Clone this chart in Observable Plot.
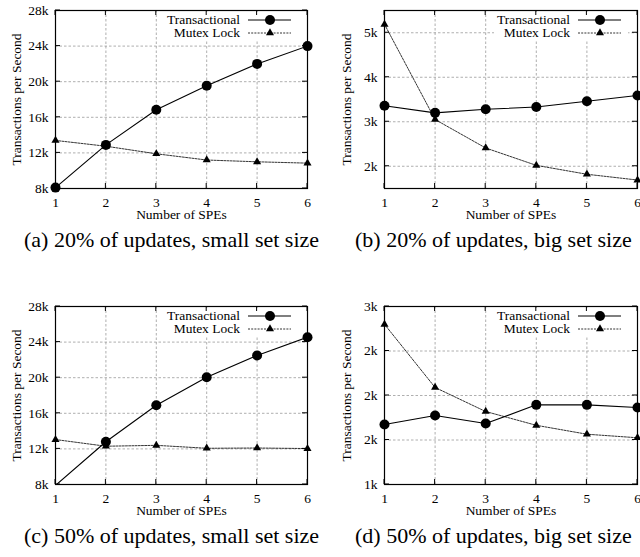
<!DOCTYPE html>
<html><head><meta charset="utf-8">
<script src="https://cdn.jsdelivr.net/npm/d3@7"></script>
<script src="https://cdn.jsdelivr.net/npm/@observablehq/plot@0.6"></script>
<style>
html,body{margin:0;padding:0;background:#fff;overflow:hidden;}
#root{position:relative;width:640px;height:557px;overflow:hidden;font-family:"Liberation Serif",serif;color:#000;}
#root svg, #root svg text{font-family:"Liberation Serif",serif !important;}
#root svg{font-size:13.5px;overflow:visible;background:transparent;}
.panel{position:absolute;width:320px;height:230px;}
.cap{position:absolute;font-size:22px;white-space:nowrap;line-height:1;}
</style></head><body><div id="root"></div><script>
// ---- data ----
const spes = [1, 2, 3, 4, 5, 6];
const seriesNames = ["Transactional", "Mutex Lock"];
const transA = [8100, 12900, 16850, 19550, 22000, 24000];
const mutexA = [13400, 12750, 11900, 11200, 11000, 10850];
const transB = [3360, 3200, 3280, 3330, 3460, 3590];
const mutexB = [5190, 3050, 2410, 2020, 1820, 1690];
const transC = [7900, 12800, 16900, 20050, 22500, 24550];
const mutexC = [13050, 12300, 12400, 12070, 12100, 12040];
const transD = [1675, 1775, 1685, 1895, 1895, 1865];
const mutexD = [2800, 2090, 1820, 1665, 1565, 1525];
const yTicksSmall = [8000, 12000, 16000, 20000, 24000, 28000];
const yLabelsSmall = ["8k", "12k", "16k", "20k", "24k", "28k"];
const yTicksB = [2000, 3000, 4000, 5000];
const yLabelsB = ["2k", "3k", "4k", "5k"];
const yTicksD = [1000, 1500, 2000, 2500, 3000];
const yLabelsD = ["1k", "2k", "2k", "2k", "3k"];
const xLabel = "Number of SPEs";
const yLabel = "Transactions per Second";
const captions = [
  "(a) 20% of updates, small set size",
  "(b) 20% of updates, big set size",
  "(c) 50% of updates, small set size",
  "(d) 50% of updates, big set size"
];

// ---- drawing ----
function inwardTicks(yTicks, len) {
  return (index, scales, values, dims) => {
    const g = d3.create("svg:g").attr("stroke", "#000").attr("stroke-width", 1);
    const l = dims.marginLeft, r = dims.width - dims.marginRight;
    const t = dims.marginTop, b = dims.height - dims.marginBottom;
    for (const v of spes) {
      const x = scales.x(v);
      g.append("line").attr("x1", x).attr("x2", x).attr("y1", b).attr("y2", b - len);
      g.append("line").attr("x1", x).attr("x2", x).attr("y1", t).attr("y2", t + len);
    }
    for (const v of yTicks) {
      const y = scales.y(v);
      g.append("line").attr("x1", l).attr("x2", l + len).attr("y1", y).attr("y2", y);
      g.append("line").attr("x1", r).attr("x2", r - len).attr("y1", y).attr("y2", y);
    }
    return g.node();
  };
}

function legend() {
  return (index, scales, values, dims) => {
    const r = dims.width - dims.marginRight, t = dims.marginTop;
    const g = d3.create("svg:g");
    g.append("rect").attr("x", r - 143).attr("y", t + 2).attr("width", 134).attr("height", 29).attr("fill", "#fff");
    const rows = [
      {name: seriesNames[0], dy: 10, dash: null, w: 1.1},
      {name: seriesNames[1], dy: 23, dash: "2,1.2", w: 0.8}
    ];
    rows.forEach((row, i) => {
      const y = t + row.dy;
      g.append("text").attr("x", r - 67).attr("y", y).attr("dy", "0.32em")
        .attr("text-anchor", "end").attr("font-size", 13.5)
        .attr("fill", "#000").text(row.name);
      const ln = g.append("line").attr("x1", r - 59).attr("x2", r - 16).attr("y1", y).attr("y2", y)
        .attr("stroke", "#000").attr("stroke-width", row.w);
      if (row.dash) ln.attr("stroke-dasharray", row.dash);
      const cx = r - 37;
      if (i === 0) {
        g.append("circle").attr("cx", cx).attr("cy", y).attr("r", 5).attr("fill", "#000");
      } else {
        g.append("path").attr("transform", `translate(${cx},${y})`)
          .attr("d", d3.symbol(d3.symbolTriangle, Math.PI * 9)()).attr("fill", "#000");
      }
    });
    return g.node();
  };
}

function panel({trans, mutex, yDomain, yTicks, yLabels, marginLeft, marginRight, ylabDx}) {
  const T = spes.map((x, i) => ({x, y: trans[i], s: seriesNames[0]}));
  const M = spes.map((x, i) => ({x, y: mutex[i], s: seriesNames[1]}));
  const inDomain = d => d.y >= yDomain[0] && d.y <= yDomain[1];
  const fmt = d => yLabels[yTicks.indexOf(d)];
  return Plot.plot({
    width: 320, height: 230,
    marginTop: 10, marginBottom: 42, marginLeft, marginRight,
    x: {domain: [1, 6], label: null},
    y: {domain: yDomain, label: null},
    marks: [
      Plot.gridX(spes, {stroke: "#9a9a9a", strokeOpacity: 1, strokeWidth: 0.8, strokeDasharray: "2.5,2"}),
      Plot.gridY(yTicks, {stroke: "#9a9a9a", strokeOpacity: 1, strokeWidth: 0.8, strokeDasharray: "2.5,2"}),
      legend(),
      Plot.line(M, {x: "x", y: "y", stroke: "#000", strokeWidth: 0.8, strokeDasharray: "2,1.2", clip: true}),
      Plot.line(T, {x: "x", y: "y", stroke: "#000", strokeWidth: 1.1, clip: true}),
      Plot.dot(T, {x: "x", y: "y", r: 5, fill: "#000", stroke: null, symbol: "circle", filter: inDomain}),
      Plot.dot(M, {x: "x", y: "y", r: 3, fill: "#000", stroke: null, symbol: "triangle", filter: inDomain}),
      inwardTicks(yTicks, 5),
      Plot.axisX(spes, {anchor: "bottom", tickSize: 0, tickPadding: 9, label: null, fontSize: 13.5, tickFormat: d => String(d)}),
      Plot.axisY(yTicks, {anchor: "left", tickSize: 0, tickPadding: 7, label: null, fontSize: 13.5, tickFormat: fmt}),
      Plot.frame({stroke: "#000", strokeWidth: 1.2}),
      Plot.text([xLabel], {frameAnchor: "bottom", dy: 30, text: d => d, fontSize: 13.5, textAnchor: "middle"}),
      Plot.text([yLabel], {frameAnchor: "left", rotate: -90, dx: ylabDx, text: d => d, fontSize: 13.5, textAnchor: "middle"})
    ]
  });
}

const root = document.getElementById("root");
const specs = [
  {trans: transA, mutex: mutexA, yDomain: [8000, 28000], yTicks: yTicksSmall, yLabels: yLabelsSmall, marginLeft: 55, marginRight: 13, ylabDx: -39, left: 0, top: 0},
  {trans: transB, mutex: mutexB, yDomain: [1500, 5500], yTicks: yTicksB, yLabels: yLabelsB, marginLeft: 64, marginRight: 3, ylabDx: -38, left: 320, top: 0},
  {trans: transC, mutex: mutexC, yDomain: [8000, 28000], yTicks: yTicksSmall, yLabels: yLabelsSmall, marginLeft: 55, marginRight: 13, ylabDx: -39, left: 0, top: 296},
  {trans: transD, mutex: mutexD, yDomain: [1000, 3000], yTicks: yTicksD, yLabels: yLabelsD, marginLeft: 64, marginRight: 3, ylabDx: -38, left: 320, top: 296}
];
const capPos = [{left: 24, top: 229}, {left: 355, top: 229}, {left: 24, top: 525}, {left: 355, top: 525}];
specs.forEach((s, i) => {
  const div = document.createElement("div");
  div.className = "panel";
  div.style.left = s.left + "px";
  div.style.top = s.top + "px";
  div.appendChild(panel(s));
  root.appendChild(div);
  const cap = document.createElement("div");
  cap.className = "cap";
  cap.style.left = capPos[i].left + "px";
  cap.style.top = capPos[i].top + "px";
  cap.textContent = captions[i];
  root.appendChild(cap);
});
</script></body></html>
